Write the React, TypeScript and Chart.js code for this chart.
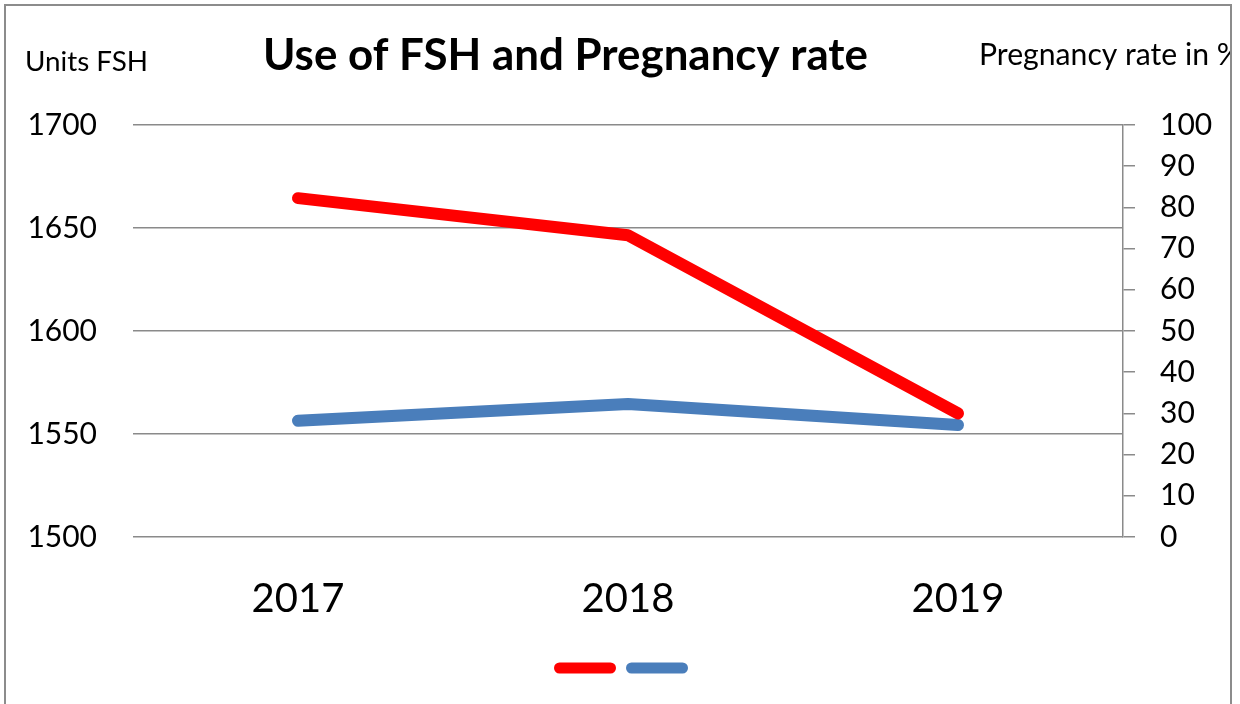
import React, { useEffect, useRef } from "react";
import { Chart, registerables } from "chart.js";

Chart.register(...registerables);

const categories = ["2017", "2018", "2019"];
const fshUnits = [1664.5, 1646.5, 1560];
const pregnancyRate = [28.2, 32.3, 27.2];
const leftTicks = [1500, 1550, 1600, 1650, 1700];
const rightTicks = [0, 10, 20, 30, 40, 50, 60, 70, 80, 90, 100];

const titleText = "Use of FSH and Pregnancy rate";
const leftAxisTitle = "Units FSH";
const rightAxisTitle = "Pregnancy rate in %";

const RED = "#FF0000";
const BLUE = "#4A7EBB";
const GRID = "#8a8a8a";
const FONT = "Lato, 'Open Sans', sans-serif";

function fitText(ctx: CanvasRenderingContext2D, text: string, weight: string, target: number) {
  ctx.font = `${weight} 100px ${FONT}`;
  const w = ctx.measureText(text).width;
  const size = (100 * target) / w;
  ctx.font = `${weight} ${size}px ${FONT}`;
}

const decorPlugin = {
  id: "decor",
  afterDraw(chart: any) {
    const ctx: CanvasRenderingContext2D = chart.ctx;
    ctx.save();
    // outer border
    ctx.strokeStyle = "#8c8c8c";
    ctx.lineWidth = 2;
    ctx.strokeRect(5, 5, 1226, 720);

    ctx.fillStyle = "#000";
    ctx.textBaseline = "alphabetic";
    ctx.textAlign = "left";
    fitText(ctx, leftAxisTitle, "normal", 123);
    ctx.fillText(leftAxisTitle, 25, 71);
    fitText(ctx, titleText, "bold", 605);
    ctx.fillText(titleText, 263, 70);
    ctx.save();
    ctx.beginPath();
    ctx.rect(0, 0, 1230, 704);
    ctx.clip();
    fitText(ctx, rightAxisTitle, "normal", 262);
    ctx.fillText(rightAxisTitle, 979, 65);
    ctx.restore();

    // legend markers
    const ds = chart.data.datasets;
    const legendItems = [
      { x0: 554, x1: 616, color: ds[0].borderColor },
      { x0: 626, x1: 688, color: ds[1].borderColor },
    ];
    ctx.lineCap = "round";
    ctx.lineWidth = 11;
    for (const it of legendItems) {
      ctx.strokeStyle = it.color;
      ctx.beginPath();
      ctx.moveTo(it.x0 + 5.5, 668);
      ctx.lineTo(it.x1 - 5.5, 668);
      ctx.stroke();
    }
    ctx.restore();
  },
};

export default function App() {
  const ref = useRef<HTMLCanvasElement | null>(null);

  useEffect(() => {
    document.body.style.margin = "0";
    const canvas = ref.current!;
    const chart = new Chart(canvas, {
      type: "line",
      data: {
        labels: categories,
        datasets: [
          {
            label: "Units FSH",
            data: fshUnits,
            yAxisID: "y",
            borderColor: RED,
            backgroundColor: RED,
            borderWidth: 12,
            borderCapStyle: "round",
            borderJoinStyle: "bevel",
            pointRadius: 0,
            tension: 0,
          },
          {
            label: "Pregnancy rate in %",
            data: pregnancyRate,
            yAxisID: "y1",
            borderColor: BLUE,
            backgroundColor: BLUE,
            borderWidth: 12,
            borderCapStyle: "round",
            borderJoinStyle: "bevel",
            pointRadius: 0,
            tension: 0,
          },
        ],
      },
      options: {
        responsive: false,
        animation: false,
        layout: { padding: { top: 125, left: 0, right: 0, bottom: 0 } },
        plugins: {
          legend: { display: false },
          title: { display: false },
          tooltip: { enabled: false },
        },
        scales: {
          x: {
            type: "category",
            offset: true,
            grid: { display: false, drawTicks: false },
            border: { display: false },
            ticks: {
              color: "#000",
              font: { family: FONT, size: 40 },
              padding: 38,
              maxRotation: 0,
            },
            afterFit(scale: any) {
              scale.height = 167;
            },
          },
          y: {
            position: "left",
            min: 1500,
            max: 1700,
            afterBuildTicks(scale: any) {
              scale.ticks = leftTicks.map((v) => ({ value: v }));
            },
            grid: { color: GRID, lineWidth: 1.5, drawTicks: false },
            border: { display: false },
            ticks: {
              color: "#000",
              font: { family: FONT, size: 30 },
              padding: 36,
              callback: (v: any) => String(v),
            },
            afterFit(scale: any) {
              scale.width = 133;
            },
          },
          y1: {
            position: "right",
            min: 0,
            max: 100,
            afterBuildTicks(scale: any) {
              scale.ticks = rightTicks.map((v) => ({ value: v }));
            },
            grid: {
              drawOnChartArea: false,
              drawTicks: true,
              tickLength: 12,
              color: GRID,
              lineWidth: 1.5,
            },
            border: { display: true, color: GRID, width: 1.5 },
            ticks: {
              color: "#000",
              font: { family: FONT, size: 30 },
              padding: 25,
              callback: (v: any) => String(v),
            },
            afterFit(scale: any) {
              scale.width = 117;
            },
          },
        },
      },
      plugins: [decorPlugin],
    } as any);
    return () => chart.destroy();
  }, []);

  return (
    <div style={{ position: "absolute", left: 0, top: 0, width: 1240, height: 704, background: "#fff" }}>
      <canvas ref={ref} width={1240} height={704} style={{ width: 1240, height: 704, display: "block" }} />
    </div>
  );
}
